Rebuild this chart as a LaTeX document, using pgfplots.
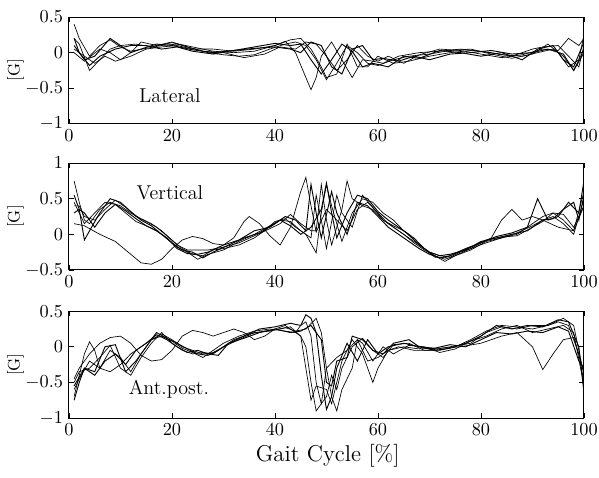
\documentclass[border=0pt]{standalone}
\usepackage{pgfplots}
\pgfplotsset{compat=1.18}

\pgfplotsset{
  panel/.style={
    scale only axis,
    width=308.5pt, height=64pt,
    anchor=south west,
    xmin=0, xmax=100,
    xtick={0,20,40,60,80,100},
    tick align=inside,
    major tick length=3pt,
    axis line style={line width=0.6pt},
    tick style={line width=0.5pt, black},
    tick label style={font=\fontsize{11}{13}\selectfont},
    cycle list={{black, solid, line width=0.55pt}},
    no markers,
  },
}

\begin{document}
\begin{tikzpicture}
\path[use as bounding box] (-41.3pt,0) rectangle (317.5pt,286.3pt);

% ---------- Lateral ----------
\begin{axis}[panel, name=top, at={(0,212.1pt)},
  ymin=-1, ymax=0.5, ytick={-1,-0.5,0,0.5}]
\addplot coordinates {(1,0.40)(2,0.2)(4,-0.05)(6,0.1)(8,0.18)(10,0.08)(12,0.02)(15,0.06)(18,0.1)(21,0.12)(24,0.06)(27,0.0)(30,-0.03)(33,-0.05)(36,-0.03)(39,0.05)(42,0.12)(44,0.15)(46,0.1)(48,-0.1)(50,-0.38)(52,-0.15)(54,0.1)(56,0.0)(58,-0.15)(60,-0.18)(63,-0.1)(66,-0.05)(70,-0.02)(74,0.03)(78,0.05)(82,-0.02)(86,-0.08)(90,-0.02)(93,0.12)(95,0.0)(97,-0.2)(99,-0.1)(100,0.25)};
\addplot coordinates {(1,0.2)(2,0.12)(4,-0.25)(6,-0.1)(8,0.05)(10,0.1)(13,0.12)(16,0.08)(20,0.14)(24,0.08)(28,0.02)(32,0.0)(36,0.02)(40,0.1)(42,0.16)(44,0.0)(46,-0.35)(47,-0.52)(48,-0.35)(49,-0.05)(51,0.15)(53,-0.1)(55,-0.35)(57,-0.1)(59,-0.12)(61,-0.15)(64,-0.05)(68,0.0)(72,0.02)(76,0.05)(80,0.02)(84,-0.03)(88,-0.05)(91,0.0)(94,0.05)(96,-0.05)(98,-0.25)(100,0.05)};
\addplot coordinates {(1,0.1)(3,-0.1)(5,-0.05)(8,0.2)(10,0.1)(12,0.0)(14,0.05)(17,0.12)(20,0.1)(24,0.04)(28,0.0)(32,0.03)(36,0.08)(40,0.13)(43,0.1)(45,0.12)(47,-0.1)(49,-0.3)(51,-0.1)(53,0.12)(55,0.02)(57,-0.2)(59,-0.15)(62,-0.2)(65,-0.05)(68,-0.08)(72,0.03)(76,0.0)(80,-0.05)(84,0.0)(88,-0.1)(91,0.05)(94,0.1)(96,-0.1)(98,-0.2)(100,0.15)};
\addplot coordinates {(1,0.05)(3,-0.05)(5,-0.15)(7,-0.05)(9,-0.12)(12,-0.05)(15,0.05)(18,0.08)(21,0.1)(24,0.05)(28,0.05)(32,0.02)(36,0.05)(40,0.1)(43,0.18)(45,0.2)(47,0.05)(49,-0.2)(50,-0.35)(52,-0.3)(54,0.12)(56,-0.2)(58,-0.2)(60,-0.05)(63,-0.15)(66,-0.12)(70,-0.05)(74,0.0)(78,0.03)(82,0.0)(86,-0.05)(90,0.05)(92,0.08)(95,0.1)(97,-0.05)(99,-0.2)(100,0.1)};
\addplot coordinates {(1,0.0)(3,-0.12)(6,0.05)(8,0.0)(10,-0.1)(12,0.0)(14,0.15)(17,0.1)(20,0.15)(23,0.08)(26,0.02)(30,0.0)(34,-0.07)(38,-0.02)(41,0.08)(44,0.05)(46,0.15)(48,0.12)(50,-0.05)(52,-0.25)(54,-0.1)(56,0.1)(58,-0.05)(60,-0.12)(62,-0.05)(65,-0.15)(68,-0.03)(72,0.05)(76,0.03)(80,-0.02)(84,-0.07)(88,-0.03)(92,0.05)(95,0.03)(97,0.2)(99,0.1)(100,0.2)};
\addplot coordinates {(1,0.2)(2,0.0)(4,-0.18)(6,-0.05)(9,0.05)(12,0.1)(15,0.1)(18,0.05)(21,0.08)(24,0.02)(28,-0.02)(32,0.03)(36,0.06)(40,0.08)(43,0.05)(45,0.0)(47,0.15)(49,0.1)(51,-0.2)(53,-0.3)(55,0.05)(57,0.1)(59,-0.1)(61,-0.08)(64,-0.12)(67,-0.05)(70,-0.1)(74,-0.02)(78,0.0)(82,0.03)(86,-0.02)(90,0.0)(93,0.05)(96,-0.02)(98,-0.25)(100,0.0)};
\node[font=\large] at (axis cs:19.6,-0.6) {Lateral};
\end{axis}

% ---------- Vertical ----------
\begin{axis}[panel, name=mid, at={(0,124.6pt)},
  ymin=-0.5, ymax=1, ytick={-0.5,0,0.5,1}]
\addplot coordinates {(1,0.15)(3,0.12)(6,0.0)(9,-0.1)(12,-0.28)(14,-0.4)(16,-0.42)(18,-0.35)(20,-0.2)(22,-0.08)(24,-0.03)(26,-0.06)(28,-0.13)(30,-0.15)(32,-0.05)(34,0.18)(35,0.25)(37,0.15)(39,-0.02)(41,-0.15)(43,0.1)(45,0.6)(46,0.8)(47,0.4)(48,0.03)(50,0.35)(52,0.2)(54,0.05)(56,0.35)(58,0.45)(60,0.3)(62,0.15)(64,0.05)(66,-0.05)(68,-0.15)(70,-0.25)(72,-0.3)(74,-0.32)(76,-0.25)(78,-0.2)(80,-0.12)(82,-0.05)(84,0.2)(86,0.35)(88,0.2)(90,0.25)(92,0.2)(95,0.1)(98,0.05)(100,0.4)};
\addplot coordinates {(1,0.75)(2,0.45)(3,0.2)(4,0.15)(6,0.35)(8,0.45)(10,0.4)(12,0.3)(14,0.22)(16,0.15)(18,0.05)(20,-0.08)(22,-0.2)(24,-0.28)(26,-0.3)(28,-0.22)(30,-0.2)(33,-0.15)(36,-0.05)(38,0.05)(40,0.18)(42,0.22)(44,0.1)(46,0.0)(48,-0.26)(49,0.3)(50,0.7)(51,0.4)(53,-0.1)(55,0.3)(57,0.5)(59,0.45)(61,0.3)(63,0.2)(65,0.05)(67,-0.08)(69,-0.2)(71,-0.3)(73,-0.35)(75,-0.3)(78,-0.22)(81,-0.1)(84,-0.05)(87,0.0)(90,0.15)(92,0.25)(94,0.3)(96,0.2)(98,0.05)(100,0.6)};
\addplot coordinates {(1,0.55)(2,0.35)(3,-0.08)(4,0.05)(6,0.3)(8,0.5)(10,0.45)(12,0.32)(14,0.2)(16,0.12)(18,0.0)(20,-0.12)(22,-0.22)(24,-0.25)(26,-0.33)(28,-0.25)(31,-0.15)(34,-0.05)(37,0.02)(40,0.15)(42,0.25)(44,0.2)(46,0.05)(47,0.7)(48,0.3)(49,-0.05)(51,0.6)(52,0.3)(54,0.0)(56,0.45)(58,0.4)(60,0.25)(62,0.1)(64,0.0)(66,-0.1)(68,-0.2)(70,-0.28)(72,-0.33)(74,-0.3)(77,-0.2)(80,-0.12)(83,-0.03)(86,0.02)(89,0.1)(91,0.5)(93,0.2)(95,0.25)(97,0.45)(99,0.3)(100,0.75)};
\addplot coordinates {(1,0.45)(2,0.3)(3,0.15)(5,0.3)(7,0.45)(9,0.42)(11,0.3)(13,0.18)(15,0.12)(17,0.05)(19,-0.05)(21,-0.18)(23,-0.25)(25,-0.35)(27,-0.28)(30,-0.22)(33,-0.1)(36,0.0)(39,0.12)(41,0.2)(43,0.18)(45,0.05)(47,-0.05)(48,0.55)(49,0.2)(50,-0.2)(52,0.55)(53,0.3)(55,0.1)(57,0.55)(59,0.38)(61,0.2)(63,0.1)(65,0.0)(67,-0.12)(69,-0.22)(71,-0.3)(73,-0.38)(75,-0.3)(78,-0.2)(81,-0.12)(84,-0.05)(87,0.02)(90,0.12)(92,0.2)(94,0.25)(96,0.15)(98,0.0)(100,0.5)};
\addplot coordinates {(1,0.4)(2,0.4)(3,0.25)(5,0.2)(7,0.35)(9,0.48)(11,0.38)(13,0.25)(15,0.18)(17,0.1)(19,-0.02)(21,-0.15)(23,-0.22)(25,-0.22)(27,-0.22)(30,-0.18)(33,-0.12)(36,-0.02)(39,0.08)(41,0.15)(43,0.28)(45,0.15)(47,0.05)(48,0.05)(49,0.7)(50,0.2)(51,-0.15)(53,0.35)(54,0.75)(55,0.5)(57,0.4)(59,0.35)(61,0.2)(63,0.12)(65,0.05)(67,-0.05)(69,-0.2)(71,-0.32)(73,-0.33)(75,-0.27)(78,-0.18)(81,-0.08)(84,-0.04)(87,-0.02)(90,0.1)(92,0.18)(94,0.3)(96,0.28)(98,0.1)(100,0.4)};
\addplot coordinates {(1,0.3)(2,0.35)(3,0.3)(5,0.1)(7,0.3)(9,0.42)(11,0.33)(13,0.22)(15,0.12)(17,0.05)(19,-0.05)(21,-0.2)(23,-0.27)(25,-0.28)(27,-0.25)(30,-0.15)(33,-0.08)(36,0.05)(39,0.1)(41,0.2)(43,0.12)(45,0.0)(47,0.1)(49,0.35)(50,0.72)(51,0.3)(52,-0.05)(54,0.3)(56,0.55)(58,0.5)(60,0.32)(62,0.2)(64,0.1)(66,0.0)(68,-0.15)(70,-0.25)(72,-0.3)(74,-0.28)(77,-0.22)(80,-0.1)(83,-0.05)(86,0.0)(89,0.05)(92,0.2)(94,0.22)(96,0.35)(98,0.45)(99,0.2)(100,0.55)};
\node[font=\large] at (axis cs:19.6,0.59) {Vertical};
\end{axis}

% ---------- Ant.post. ----------
\begin{axis}[panel, name=bot, at={(0,35.9pt)},
  ymin=-1, ymax=0.5, ytick={-1,-0.5,0,0.5}]
\addplot coordinates {(1,-0.45)(2,-0.3)(4,-0.1)(6,0.05)(8,0.13)(10,0.15)(12,0.05)(14,-0.12)(16,-0.2)(18,-0.18)(20,-0.05)(22,0.15)(24,0.23)(26,0.2)(28,0.15)(30,0.2)(32,0.25)(34,0.2)(36,0.1)(38,0.15)(40,0.25)(42,0.3)(44,0.2)(45,0.15)(46,0.0)(47,-0.5)(48,-0.9)(49,-0.8)(50,-0.3)(52,-0.15)(54,-0.05)(56,0.1)(58,-0.2)(60,-0.15)(62,-0.05)(65,0.0)(68,-0.03)(72,-0.02)(76,0.0)(80,0.05)(84,0.15)(87,0.2)(90,0.0)(92,-0.32)(94,-0.1)(96,0.1)(98,0.13)(100,-0.35)};
\addplot coordinates {(1,-0.7)(2,-0.4)(3,-0.1)(4,0.07)(5,-0.05)(6,-0.3)(8,-0.35)(10,-0.25)(12,-0.1)(14,0.0)(16,0.1)(18,0.18)(20,0.1)(22,0.0)(24,-0.05)(26,-0.1)(28,-0.08)(30,0.0)(32,0.1)(35,0.18)(38,0.22)(41,0.25)(43,0.28)(45,0.15)(46,-0.3)(47,-0.75)(48,-0.55)(50,-0.6)(51,-0.8)(52,-0.5)(53,-0.2)(55,0.1)(57,-0.1)(59,-0.5)(60,-0.3)(62,-0.05)(64,0.0)(67,-0.05)(70,-0.05)(74,0.0)(78,0.05)(81,0.2)(84,0.28)(87,0.25)(90,0.3)(93,0.3)(95,0.35)(97,0.3)(99,-0.1)(100,-0.5)};
\addplot coordinates {(1,-0.55)(3,-0.3)(5,-0.35)(7,0.0)(9,0.03)(11,-0.35)(13,-0.2)(15,0.0)(17,0.2)(19,0.12)(21,0.05)(23,-0.03)(25,-0.1)(27,-0.12)(29,-0.05)(31,0.05)(34,0.15)(37,0.25)(40,0.28)(43,0.33)(45,0.3)(46,0.45)(47,0.4)(48,0.2)(49,-0.4)(50,-0.88)(51,-0.7)(52,-0.3)(54,0.05)(56,-0.2)(58,0.1)(60,-0.1)(62,0.0)(65,0.05)(68,0.0)(71,-0.05)(74,-0.02)(77,0.05)(80,0.15)(83,0.3)(86,0.25)(89,0.3)(92,0.28)(95,0.38)(97,0.35)(99,0.0)(100,-0.65)};
\addplot coordinates {(1,-0.6)(2,-0.45)(4,-0.2)(6,-0.3)(8,-0.05)(10,-0.15)(12,-0.35)(14,-0.1)(16,0.1)(18,0.15)(20,0.08)(22,-0.02)(24,-0.08)(26,-0.15)(28,-0.05)(30,0.05)(33,0.15)(36,0.22)(39,0.25)(42,0.22)(44,0.2)(45,0.3)(46,0.35)(47,0.15)(48,-0.5)(49,-0.8)(50,-0.7)(51,-0.4)(52,-0.6)(53,-0.3)(55,0.0)(57,0.12)(59,-0.05)(61,-0.15)(63,0.03)(66,0.05)(69,-0.05)(72,-0.05)(75,0.0)(78,0.1)(81,0.22)(84,0.3)(87,0.28)(90,0.25)(93,0.3)(96,0.4)(98,0.3)(100,-0.4)};
\addplot coordinates {(1,-0.5)(2,-0.35)(4,-0.3)(6,-0.15)(8,0.02)(10,-0.3)(12,-0.4)(14,-0.15)(16,0.05)(18,0.2)(20,0.05)(22,-0.05)(24,-0.1)(26,-0.08)(28,-0.1)(30,0.0)(33,0.1)(36,0.2)(39,0.22)(42,0.27)(44,0.22)(46,0.25)(48,0.4)(49,0.2)(50,-0.3)(51,-0.7)(52,-0.9)(53,-0.6)(55,-0.3)(56,0.1)(57,0.05)(59,-0.2)(61,0.0)(63,-0.1)(66,0.02)(69,0.0)(72,-0.08)(75,-0.03)(78,0.08)(81,0.15)(84,0.25)(87,0.3)(90,0.2)(93,0.25)(96,0.3)(98,0.2)(100,-0.55)};
\addplot coordinates {(1,-0.75)(2,-0.5)(3,-0.3)(5,-0.4)(7,-0.2)(9,-0.1)(11,-0.25)(13,-0.05)(15,0.05)(17,0.17)(19,0.1)(21,0.0)(23,-0.08)(25,-0.05)(27,-0.1)(29,-0.12)(31,0.05)(34,0.12)(37,0.2)(40,0.25)(43,0.2)(45,0.22)(47,0.3)(49,0.1)(50,-0.5)(51,-0.55)(52,-0.2)(54,-0.15)(55,0.15)(57,0.1)(59,-0.05)(61,-0.1)(63,0.05)(66,0.1)(68,0.0)(71,-0.02)(74,0.03)(77,0.0)(80,0.1)(83,0.2)(86,0.18)(89,0.22)(92,0.2)(95,0.28)(97,0.22)(99,-0.2)(100,-0.3)};
\node[font=\large] at (axis cs:19.4,-0.6) {Ant.post.};
\end{axis}

\node[rotate=90] at ([xshift=-32pt]top.west) {[G]};
\node[rotate=90] at ([xshift=-32pt]mid.west) {[G]};
\node[rotate=90] at ([xshift=-32pt]bot.west) {[G]};
\node[font=\fontsize{13.7}{16}\selectfont] at (155pt,13.2pt) {Gait Cycle [\%]};
\end{tikzpicture}
\end{document}
